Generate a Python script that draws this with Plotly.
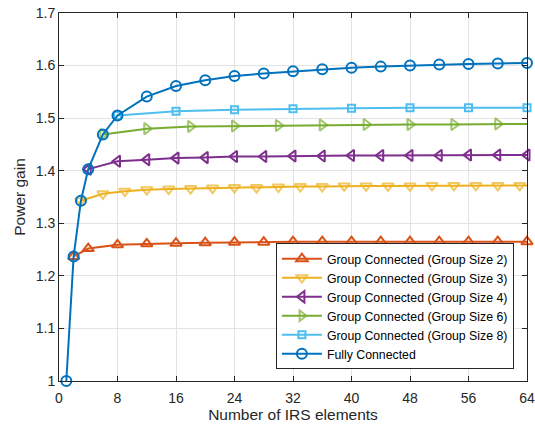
import plotly.graph_objects as go

# ---- data ----
x_fc = [1, 2, 3, 4, 6, 8, 12, 16, 20, 24, 28, 32, 36, 40, 44, 48, 52, 56, 60, 64]
y_fc = [1.000, 1.237, 1.343, 1.403, 1.469, 1.505, 1.541, 1.561, 1.572, 1.580,
        1.585, 1.589, 1.593, 1.596, 1.598, 1.600, 1.602, 1.603, 1.604, 1.605]

x_g2 = [2, 4, 8, 12, 16, 20, 24, 28, 32, 36, 40, 44, 48, 52, 56, 60, 64]
y_g2 = [1.237, 1.252, 1.259, 1.261, 1.262, 1.263, 1.264, 1.264, 1.265, 1.265,
        1.265, 1.265, 1.265, 1.265, 1.265, 1.265, 1.265]

x_g3 = [3, 6, 9, 12, 15, 18, 21, 24, 27, 30, 33, 36, 39, 42, 45, 48, 51, 54, 57, 60, 63, 64]
y_g3 = [1.343, 1.356, 1.361, 1.364, 1.365, 1.366, 1.367, 1.368, 1.368, 1.369, 1.370,
        1.370, 1.371, 1.371, 1.371, 1.371, 1.372, 1.372, 1.372, 1.372, 1.372, 1.372]
m_g3 = [1] * 21 + [0]

x_g4 = [4, 8, 12, 16, 20, 24, 28, 32, 36, 40, 44, 48, 52, 56, 60, 64]
y_g4 = [1.403, 1.418, 1.421, 1.424, 1.425, 1.427, 1.427, 1.428, 1.428, 1.429,
        1.429, 1.429, 1.429, 1.430, 1.430, 1.430]

x_g6 = [6, 12, 18, 24, 30, 36, 42, 48, 54, 60, 64]
y_g6 = [1.469, 1.480, 1.484, 1.485, 1.486, 1.487, 1.488, 1.488, 1.488, 1.489, 1.489]
m_g6 = [1] * 10 + [0]

x_g8 = [8, 16, 24, 32, 40, 48, 56, 64]
y_g8 = [1.505, 1.513, 1.516, 1.518, 1.519, 1.520, 1.520, 1.520]

x_ticks = [0, 8, 16, 24, 32, 40, 48, 56, 64]
y_ticks = [1.0, 1.1, 1.2, 1.3, 1.4, 1.5, 1.6, 1.7]
y_tick_labels = ["1", "1.1", "1.2", "1.3", "1.4", "1.5", "1.6", "1.7"]

FONT = "Liberation Sans, Arial, Helvetica, sans-serif"

series = [
    ("Group Connected (Group Size 2)", x_g2, y_g2, None, "#D95319", "triangle-up-open", 10),
    ("Group Connected (Group Size 3)", x_g3, y_g3, m_g3, "#EDB120", "triangle-down-open", 10),
    ("Group Connected (Group Size 4)", x_g4, y_g4, None, "#7E2F8E", "triangle-left-open", 10),
    ("Group Connected (Group Size 6)", x_g6, y_g6, m_g6, "#77AC30", "triangle-right-open", 10),
    ("Group Connected (Group Size 8)", x_g8, y_g8, None, "#4DBEEE", "square-open", 7),
    ("Fully Connected", x_fc, y_fc, None, "#0072BD", "circle-open", 10),
]

fig = go.Figure()
for name, xs, ys, mask, color, sym, size in series:
    sizes = size if mask is None else [size * m for m in mask]
    fig.add_trace(go.Scatter(
        x=xs, y=ys, name=name, mode="lines+markers", cliponaxis=False,
        line=dict(color=color, width=2),
        marker=dict(symbol=sym, size=sizes, color=color, line=dict(width=2, color=color)),
    ))

axis_common = dict(
    showline=True, linecolor="#262626", linewidth=1, mirror="ticks",
    ticks="inside", ticklen=5, tickcolor="#262626", tickwidth=1,
    showgrid=True, gridcolor="#e3e3e3", gridwidth=1, zeroline=False,
    automargin=False,
    tickfont=dict(family=FONT, size=14, color="#262626"),
)

fig.update_layout(
    width=535, height=429,
    margin=dict(l=59, r=8, t=13, b=48),
    paper_bgcolor="white", plot_bgcolor="white",
    font=dict(family=FONT, color="#262626"),
    showlegend=True,
    legend=dict(
        x=0.972, y=0.032, xanchor="right", yanchor="bottom",
        bgcolor="white", bordercolor="#262626", borderwidth=1,
        font=dict(family=FONT, size=12.3, color="#000000"),
        itemwidth=40, tracegroupgap=0,
    ),
)
fig.update_xaxes(
    range=[0, 64], tickmode="array", tickvals=x_ticks, ticklabelstandoff=4,
    title=dict(text="Number of IRS elements", font=dict(family=FONT, size=15.5, color="#262626"), standoff=3),
    **axis_common,
)
fig.update_yaxes(
    range=[1.0, 1.7], tickmode="array", tickvals=y_ticks, ticktext=y_tick_labels,
    title=dict(text="Power gain", font=dict(family=FONT, size=15.5, color="#262626"), standoff=6),
    **axis_common,
)

fig.write_html(
    "out.html",
    config={"displayModeBar": False},
    post_script="document.body.style.margin='0';document.body.style.overflow='hidden';",
)
